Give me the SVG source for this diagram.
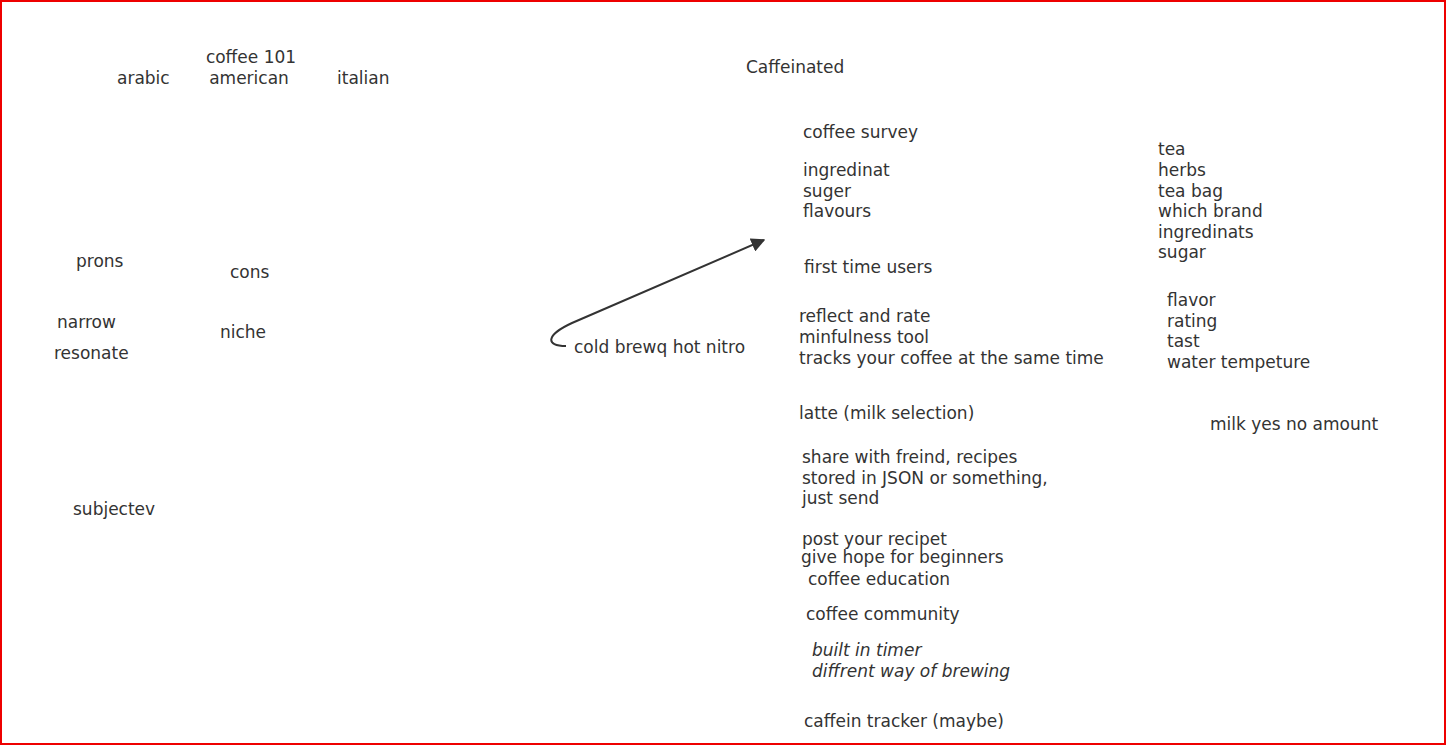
<svg xmlns="http://www.w3.org/2000/svg" width="1447" height="746" viewBox="0 0 1447 746">
<style>
text{font-family:"DejaVu Sans","Noto Sans",sans-serif;font-size:17px;fill:#333}
.i{font-style:italic}
</style>
<defs>
<marker id="ah" viewBox="0 0 10 10" refX="9" refY="5" markerWidth="14" markerHeight="14" markerUnits="userSpaceOnUse" orient="auto">
<path d="M0,0 L10,5 L0,10 z" fill="#333"/>
</marker>
</defs>
<rect x="0" y="0" width="1447" height="746" fill="#fff"/>
<rect x="1" y="1" width="1444" height="743" fill="none" stroke="#e00" stroke-width="2"/>
<g id="connectors">
<path d="M566,346 C545,346 546,335 572,323 L764,240" fill="none" stroke="#333" stroke-width="2" marker-end="url(#ah)"/>
</g>
<g id="n-origins">
<text x="251" y="63" text-anchor="middle">coffee 101</text>
<text x="249" y="84" text-anchor="middle">american</text>
<text x="117" y="84">arabic</text>
<text x="337" y="84">italian</text>
</g>
<g id="n-title"><text x="746" y="73">Caffeinated</text></g>
<g id="n-survey"><text x="803" y="138">coffee survey</text></g>
<g id="n-ingred"><text x="803" y="176">ingredinat</text><text x="803" y="197">suger</text><text x="803" y="217">flavours</text></g>
<g id="n-first"><text x="804" y="273">first time users</text></g>
<g id="n-reflect"><text x="799" y="322">reflect and rate</text><text x="799" y="343">minfulness tool</text><text x="799" y="364">tracks your coffee at the same time</text></g>
<g id="n-cold"><text x="574" y="353">cold brewq hot nitro</text></g>
<g id="n-latte"><text x="799" y="419">latte (milk selection)</text></g>
<g id="n-share"><text x="802" y="463">share with freind, recipes</text><text x="802" y="484">stored in JSON or something,</text><text x="802" y="504">just send</text></g>
<g id="n-post"><text x="802" y="545">post your recipet</text></g>
<g id="n-hope"><text x="801" y="563">give hope for beginners</text></g>
<g id="n-edu"><text x="808" y="585">coffee education</text></g>
<g id="n-community"><text x="806" y="620">coffee community</text></g>
<g id="n-timer"><text class="i" x="812" y="656">built in timer</text><text class="i" x="812" y="677">diffrent way of brewing</text></g>
<g id="n-tracker"><text x="804" y="727">caffein tracker (maybe)</text></g>
<g id="n-tea"><text x="1158" y="155">tea</text><text x="1158" y="176">herbs</text><text x="1158" y="197">tea bag</text><text x="1158" y="217">which brand</text><text x="1158" y="238">ingredinats</text><text x="1158" y="258">sugar</text></g>
<g id="n-flavor"><text x="1167" y="306">flavor</text><text x="1167" y="327">rating</text><text x="1167" y="347">tast</text><text x="1167" y="368">water tempeture</text></g>
<g id="n-milk"><text x="1210" y="430">milk yes no amount</text></g>
<g id="n-prons"><text x="76" y="267">prons</text></g>
<g id="n-cons"><text x="230" y="278">cons</text></g>
<g id="n-narrow"><text x="57" y="328">narrow</text></g>
<g id="n-niche"><text x="220" y="338">niche</text></g>
<g id="n-resonate"><text x="54" y="359">resonate</text></g>
<g id="n-subjectev"><text x="73" y="515">subjectev</text></g>
</svg>
